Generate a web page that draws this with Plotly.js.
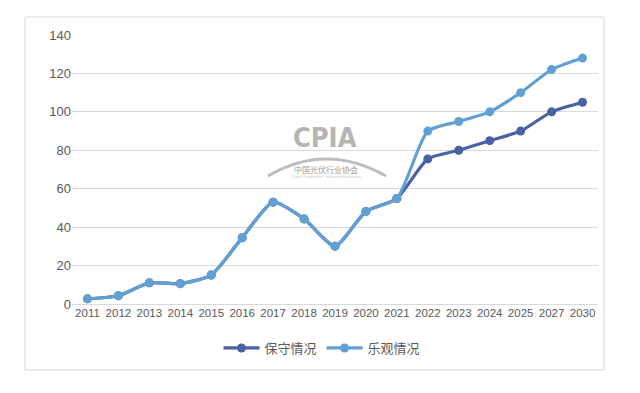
<!DOCTYPE html>
<html><head><meta charset="utf-8">
<script src="https://cdn.plot.ly/plotly-3.0.1.min.js"></script>
<style>html,body{margin:0;padding:0;background:#fff;}#c{width:640px;height:393px;}</style>
</head><body><div id="c"></div>
<script>
const years = ['2011','2012','2013','2014','2015','2016','2017','2018','2019','2020','2021','2022','2023','2024','2025','2027','2030'];
const conservative = [2.7,4.3,11,10.6,15.1,34.5,53,44.3,30.1,48.2,54.9,75.5,80,85,90,100,105];
const optimistic = [2.7,4.3,11,10.6,15.1,34.5,53,44.3,30.1,48.2,54.9,90,95,100,110,122,128];
const seriesNames = ['保守情况','乐观情况'];
const yTicks = [0,20,40,60,80,100,120,140];

const L=72,R=598,T=35,B=304;
const W=R-L,H=B-T;
const px=x=>(x-L)/W, py=y=>(B-y)/H;

const font = {family:'"Noto Sans CJK SC", "Liberation Sans", sans-serif', size:12, color:'#595959'};
const traces = [
  {x:years,y:conservative,name:seriesNames[0],type:'scatter',mode:'lines+markers',
   line:{color:'#4a61a3',width:3.2,shape:'spline',smoothing:0.6},marker:{color:'#4a61a3',size:9}},
  {x:years,y:optimistic,name:seriesNames[1],type:'scatter',mode:'lines+markers',
   line:{color:'#62a0d4',width:3.2,shape:'spline',smoothing:0.6},marker:{color:'#62a0d4',size:9}}
];
const layout = {
  width:640,height:393,
  margin:{l:L,r:640-R,t:T,b:393-B},
  paper_bgcolor:'#fff',plot_bgcolor:'#fff',
  font:font,
  showlegend:true,
  legend:{orientation:'h',x:px(322),xanchor:'center',y:py(348),yanchor:'middle',
    font:{family:font.family,size:13,color:'#595959'},itemwidth:36,traceorder:'normal'},
  xaxis:{type:'category',range:[-0.5,years.length-0.5],showgrid:false,zeroline:false,showline:false,ticks:'',
    tickfont:{family:'"Liberation Sans", sans-serif',size:11.5,color:'#595959'},automargin:false},
  yaxis:{range:[0,140],tickvals:yTicks,showgrid:true,gridcolor:'#d9d9d9',gridwidth:1,
    zeroline:true,zerolinecolor:'#d9d9d9',showline:false,ticks:'',ticklen:0,
    tickfont:{family:'"Liberation Sans", sans-serif',size:13,color:'#595959'},automargin:false},
  shapes:[
    {type:'rect',xref:'paper',yref:'paper',x0:px(25),x1:px(604),y0:py(370),y1:py(17),
     line:{color:'#d9d9d9',width:1},fillcolor:'rgba(0,0,0,0)',layer:'below'},
    {type:'path',xref:'paper',yref:'paper',
     path:`M ${px(268)} ${py(176)} Q ${px(326)} ${py(142)} ${px(386)} ${py(176)}`,
     line:{color:'#bdbdbd',width:3},layer:'below'}
  ],
  annotations:[
    {xref:'paper',yref:'paper',x:px(325),y:py(137),text:'<b>CPIA</b>',showarrow:false,
     font:{family:'"DejaVu Sans Condensed", "Liberation Sans Narrow", sans-serif',size:27,color:'#b5b5b5'}},
    {xref:'paper',yref:'paper',x:px(326),y:py(169),text:'中国光伏行业协会',showarrow:false,
     font:{family:'"Noto Sans CJK SC", sans-serif',size:8,color:'#9a9a9a'}},
    {xref:'paper',yref:'paper',x:px(326),y:py(176),text:'China Photovoltaic Industry Association',showarrow:false,
     font:{family:'"Liberation Sans", sans-serif',size:4,color:'#c8c8c8'}}
  ]
};
Plotly.newPlot('c',traces,layout,{displayModeBar:false,staticPlot:true});
</script></body></html>
